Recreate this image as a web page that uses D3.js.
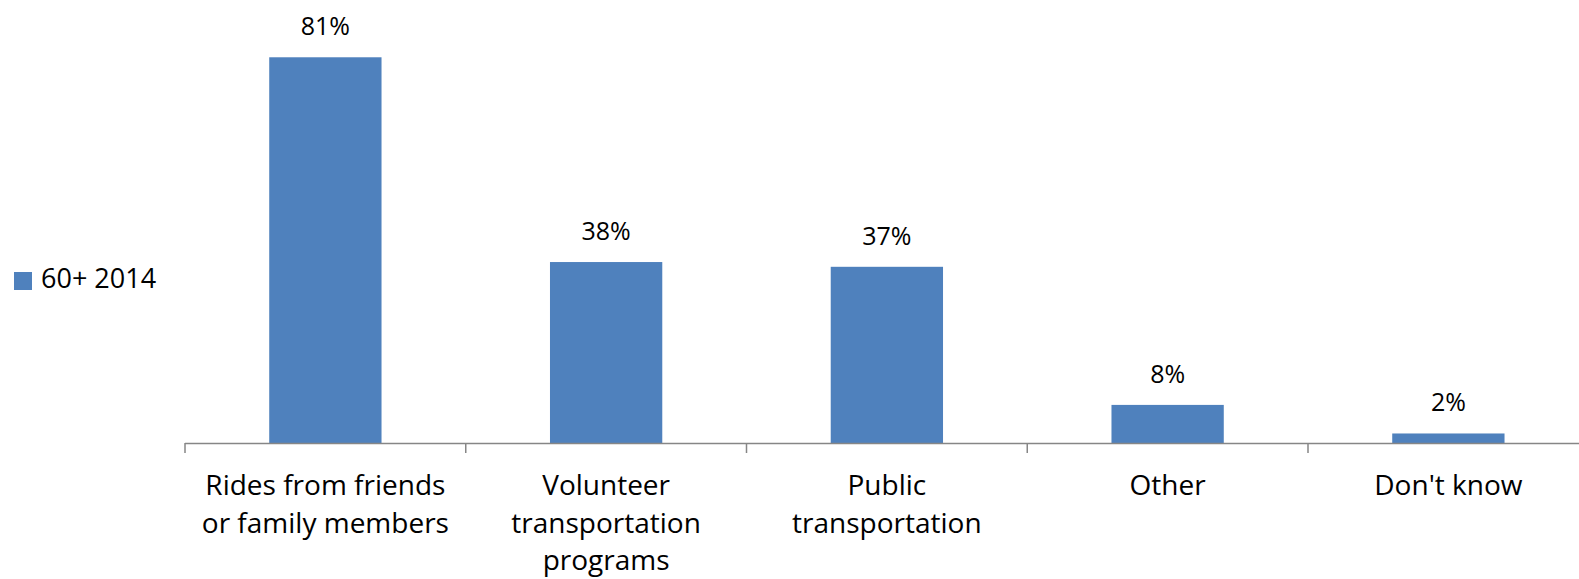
<!DOCTYPE html>
<html><head><meta charset="utf-8">
<script src="https://cdn.jsdelivr.net/npm/d3@7"></script>
<style>html,body{margin:0;padding:0;background:#fff;overflow:hidden}</style>
</head><body>
<svg id="c" width="1579" height="579"></svg>
<script>
const categories = [["Rides from friends","or family members"],["Volunteer","transportation","programs"],["Public","transportation"],["Other"],["Don't know"]];
const values = [81, 38, 37, 8, 2];
const valueLabels = ["81%","38%","37%","8%","2%"];
const seriesName = "60+ 2014";

const svg = d3.select("#c");
const FONT = "Open Sans, sans-serif";
const x0 = 185, x1 = 1588.75, yBase = 443;
const keys = categories.map((c,i)=>i);
const x = d3.scaleBand().domain(keys).range([x0,x1]).paddingInner(0.6).paddingOuter(0.3);
const y = d3.scaleLinear().domain([0,90]).range([yBase, yBase - 90*4.762]);

svg.selectAll("rect.bar").data(values).join("rect").attr("class","bar")
  .attr("x",(d,i)=>x(i)).attr("width",x.bandwidth())
  .attr("y",d=>y(d)).attr("height",d=>yBase-y(d)).attr("fill","#4F81BD");

svg.selectAll("text.val").data(values).join("text").attr("class","val")
  .attr("x",(d,i)=>x(i)+x.bandwidth()/2).attr("y",d=>y(d)-22)
  .attr("text-anchor","middle").attr("font-family",FONT).attr("font-size",25).attr("fill","#000")
  .text((d,i)=>valueLabels[i]);

// axis
const step = x.step();
const axisG = svg.append("g");
axisG.append("line").attr("x1",x0).attr("x2",x1).attr("y1",yBase+0.5).attr("y2",yBase+0.5).attr("stroke","#868686").attr("stroke-width",1.5);
const tickPos = d3.range(categories.length+1).map(i=>x0+i*step);
axisG.selectAll("line.tick").data(tickPos).join("line").attr("class","tick")
  .attr("x1",d=>d).attr("x2",d=>d).attr("y1",yBase).attr("y2",yBase+10).attr("stroke","#868686").attr("stroke-width",1.5);

const lab = svg.selectAll("text.cat").data(categories).join("text").attr("class","cat")
  .attr("text-anchor","middle").attr("font-family",FONT).attr("font-size",28).attr("fill","#000");
lab.each(function(lines,i){
  d3.select(this).selectAll("tspan").data(lines).join("tspan")
    .attr("x",x(i)+x.bandwidth()/2).attr("y",(l,j)=>495+j*37.7).text(l=>l);
});

// legend
svg.append("rect").attr("x",14).attr("y",272).attr("width",18).attr("height",18).attr("fill","#4F81BD");
svg.append("text").attr("x",41).attr("y",288).attr("font-family",FONT).attr("font-size",27).attr("fill","#000").text(seriesName);
</script>
</body></html>
